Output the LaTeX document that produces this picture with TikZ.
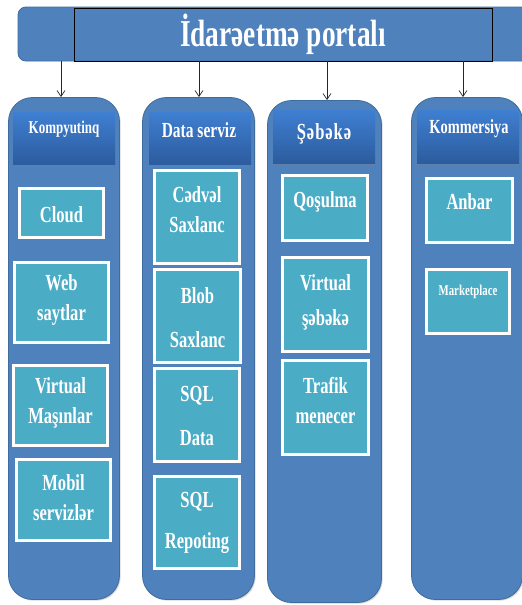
\documentclass[tikz,border=0pt]{standalone}
\usepackage{fontspec}
\newfontfamily\lbl[FakeStretch=0.72]{Liberation Serif}
\usetikzlibrary{arrows.meta,shadows}
\definecolor{colblue}{HTML}{4F81BD}
\definecolor{coledge}{HTML}{3E6C9F}
\definecolor{hdrtop}{HTML}{3F7FD2}
\definecolor{hdrbot}{HTML}{2C5C9E}
\definecolor{tilefill}{HTML}{4BACC6}
\begin{document}
\begin{tikzpicture}[x=1pt,y=-1pt,
  column/.style={draw=coledge, line width=0.8pt, fill=colblue, rounded corners=24pt,
    drop shadow={shadow xshift=1.2pt,shadow yshift=-1.2pt,opacity=0.3}},
  header/.style={top color=hdrtop, bottom color=hdrbot, draw=none, inner sep=0pt,
    drop shadow={shadow xshift=0pt,shadow yshift=-1.5pt,opacity=0.35}},
  tile/.style={draw=white, line width=3pt, fill=tilefill, inner sep=0pt,
    drop shadow={shadow xshift=1.5pt,shadow yshift=-1.5pt,opacity=0.3}},
  txt/.style={text=white, font=\lbl\bfseries\fontsize{23}{30}\selectfont, align=center, anchor=base, inner sep=0pt},
  hdrtxt/.style={text=white, font=\lbl\bfseries\fontsize{20}{24}\selectfont, anchor=base, inner sep=0pt},
  arr/.style={draw=black!85, line width=0.7pt, -{Straight Barb[length=6pt,width=8pt]}}
]
\useasboundingbox (0,0) rectangle (522,605);
\fill[white] (0,0) rectangle (522,605);
\clip (0,0) rectangle (522,605);

% top banner with the portal title
\node[draw=coledge, line width=0.8pt, fill=colblue, rounded corners=8pt, inner sep=0pt,
      minimum width=522pt, minimum height=54pt] (banner) at (279,34) {};
\node[draw=black, line width=0.8pt, inner sep=0pt, minimum width=418pt, minimum height=53pt,
      text=white, font=\lbl\bfseries\fontsize{38}{40}\selectfont] (portal) at (283,34.5) {İdarəetmə portalı};

% service columns
\node[column, minimum width=111pt, minimum height=502pt] (col1) at (64,348.5) {};
\node[column, minimum width=112pt, minimum height=502pt] (col2) at (198.5,348.5) {};
\node[column, minimum width=114pt, minimum height=502pt] (col3) at (324.5,351.5) {};
\node[column, minimum width=111pt, minimum height=502pt] (col4) at (467,348.5) {};

% column headers
\node[header, minimum width=102pt, minimum height=52pt] (hdr1) at (64,138) {};
\node[header, minimum width=102pt, minimum height=52pt] (hdr2) at (200,138) {};
\node[header, minimum width=102pt, minimum height=53pt] (hdr3) at (324,136.5) {};
\node[header, minimum width=102pt, minimum height=53pt] (hdr4) at (468,136.5) {};
\node[hdrtxt, font=\lbl\bfseries\fontsize{18}{22}\selectfont] (h1) at (64,133) {Kompyutinq};
\node[hdrtxt, font=\lbl\bfseries\fontsize{21.5}{24}\selectfont] (h2) at (199,137) {Data serviz};
\node[hdrtxt, font=\lbl\bfseries\fontsize{23}{24}\selectfont\addfontfeature{LetterSpace=4}] (h3) at (324,139) {Şəbəkə};
\node[hdrtxt] (h4) at (469,133) {Kommersiya};

% connectors from the portal to each column
\draw[arr] ([xshift=-3pt]col1.north |- banner.south) -- ([xshift=-3pt]col1.north);
\draw[arr] ([xshift=0.5pt]col2.north |- banner.south) -- ([xshift=0.5pt]col2.north);
\draw[arr] ([xshift=2.5pt]col3.north |- banner.south) -- ([xshift=2.5pt]col3.north);
\draw[arr] ([xshift=-4pt]col4.north |- banner.south) -- ([xshift=-4pt]col4.north);

% Kompyutinq tiles (text nodes are placed at the baseline of their last line)
\node[tile, minimum width=84pt, minimum height=49pt] (cloud) at (61.5,213) {};
\node[tile, minimum width=94pt, minimum height=80pt] (web) at (61.5,302.5) {};
\node[tile, minimum width=94pt, minimum height=80pt] (vm) at (60.5,405.5) {};
\node[tile, minimum width=94pt, minimum height=81pt] (mobil) at (63.5,500) {};
\node[txt] (cloud-t) at (61.5,222) {Cloud};
\node[txt] (web-t) at (61.5,320) {Web\\saytlar};
\node[txt] (vm-t) at (60.5,423) {Virtual\\Maşınlar};
\node[txt] (mobil-t) at (63.5,520) {Mobil\\servizlər};

% Data serviz tiles
\node[tile, minimum width=85pt, minimum height=93pt] (cedvel) at (197,217) {};
\node[tile, minimum width=86pt, minimum height=93pt] (blob) at (197.5,316) {};
\node[tile, minimum width=85pt, minimum height=93pt] (sqldata) at (197,415) {};
\node[tile, minimum width=85pt, minimum height=92pt] (sqlrep) at (197,522.5) {};
\node[txt] (cedvel-t) at (197,232) {Cədvəl\\Saxlanc};
\node[txt] (blob-t) at (197.5,347) {Blob\\[14pt]Saxlanc};
\node[txt] (sqldata-t) at (197,445) {SQL\\[14pt]Data};
\node[txt] (sqlrep-t) at (197,548) {SQL\\[11pt]Repoting};

% Şəbəkə tiles
\node[tile, minimum width=85pt, minimum height=65pt] (qosulma) at (325,208) {};
\node[tile, minimum width=86pt, minimum height=94pt] (vnet) at (325.5,304.5) {};
\node[tile, minimum width=86pt, minimum height=94pt] (trafik) at (325.5,407.5) {};
\node[txt] (qosulma-t) at (325,207) {Qoşulma};
\node[txt] (vnet-t) at (325.5,325) {Virtual\\[5pt]şəbəkə};
\node[txt] (trafik-t) at (325.5,423) {Trafik\\menecer};

% Kommersiya tiles
\node[tile, minimum width=86pt, minimum height=64pt] (anbar) at (469.5,210.5) {};
\node[tile, minimum width=83pt, minimum height=64pt] (market) at (468,301.5) {};
\node[txt] (anbar-t) at (469.5,209) {Anbar};
\node[txt, font=\lbl\bfseries\fontsize{15}{18}\selectfont] (market-t) at (468,295) {Marketplace};
\end{tikzpicture}
\end{document}
